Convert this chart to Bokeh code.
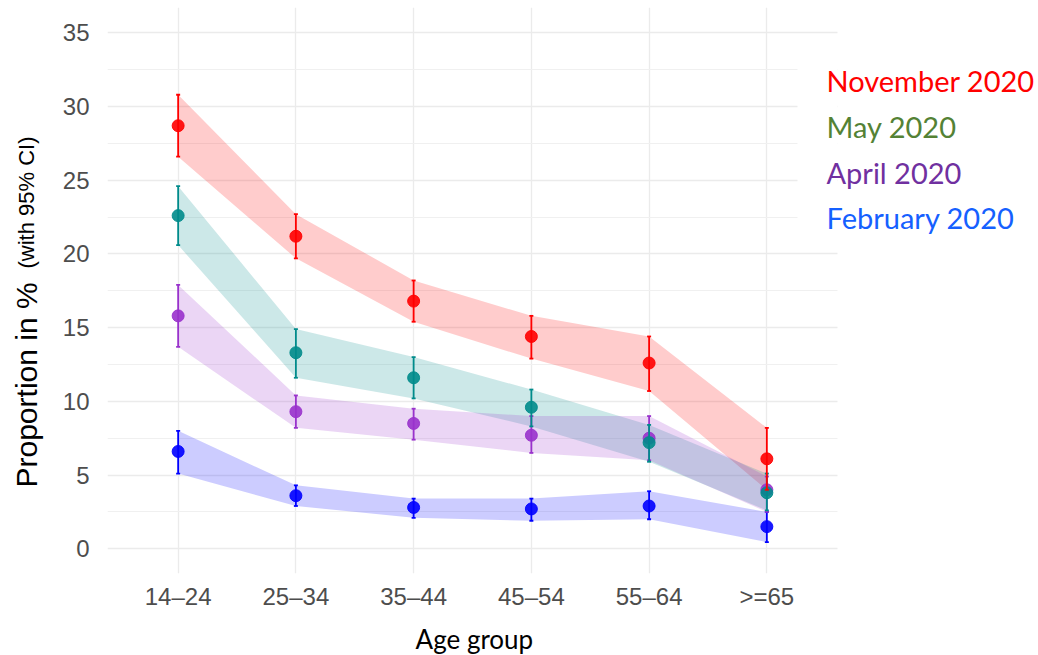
import numpy as np
from bokeh.plotting import figure
from bokeh.layouts import row, column
from bokeh.models import Range1d, FixedTicker, BoxAnnotation, ColumnDataSource
from bokeh.core.properties import value
from bokeh.embed import file_html
from bokeh.resources import INLINE

# ---------------- data ----------------
age_groups = ["14–24", "25–34", "35–44", "45–54", "55–64", ">=65"]

series_names = ["November 2020", "May 2020", "April 2020", "February 2020"]
nov_est = [28.7, 21.2, 16.8, 14.4, 12.6, 6.1]
nov_lo = [26.6, 19.7, 15.4, 12.9, 10.7, 4.0]
nov_hi = [30.8, 22.7, 18.2, 15.8, 14.4, 8.2]
may_est = [22.6, 13.3, 11.6, 9.6, 7.2, 3.8]
may_lo = [20.6, 11.6, 10.2, 8.3, 5.9, 2.6]
may_hi = [24.6, 14.9, 13.0, 10.8, 8.4, 5.1]
apr_est = [15.8, 9.3, 8.5, 7.7, 7.5, 4.0]
apr_lo = [13.7, 8.2, 7.4, 6.5, 6.0, 2.5]
apr_hi = [17.9, 10.4, 9.5, 9.0, 9.0, 4.9]
feb_est = [6.6, 3.6, 2.8, 2.7, 2.9, 1.5]
feb_lo = [5.1, 2.9, 2.1, 1.9, 2.0, 0.45]
feb_hi = [8.0, 4.3, 3.4, 3.4, 3.9, 2.5]

y_ticks = [0, 5, 10, 15, 20, 25, 30, 35]

mark_colors = ["#FF0000", "#008B8B", "#9932CC", "#0000FF"]
legend_colors = ["#FF0000", "#548235", "#7030A0", "#1560FF"]

est = [nov_est, may_est, apr_est, feb_est]
lo = [nov_lo, may_lo, apr_lo, feb_lo]
hi = [nov_hi, may_hi, apr_hi, feb_hi]

# ---------------- layout geometry (page pixels) ----------------
H = 655
H_MAIN = 615
LW = 50               # width of the strip holding the y title
MW = 986              # main figure width
FL, FR_PANEL = 107, 837   # panel left / right edge (page px)
FT, FB = 7, 573           # panel top / bottom (page px)
PX_PER_CAT = 117.74
X0 = -0.6                 # data x at the panel's left edge
Y_AT_TOP = 36.72
Y_AT_BOTTOM = -1.68
PX_PER_Y = (FB - FT) / (Y_AT_TOP - Y_AT_BOTTOM)

# texts are drawn centred on their em box; shift from baseline to that centre
LATO_MID = 0.387
LIB_MID = 0.3465

def xd(px):
    return X0 + (px - FL) / PX_PER_CAT

def yd(py):
    return Y_AT_BOTTOM + (FB - py) / PX_PER_Y

xs = list(range(len(age_groups)))

p = figure(
    width=MW, height=H_MAIN,
    x_range=Range1d(X0, xd(LW + MW)),
    y_range=Range1d(Y_AT_BOTTOM, Y_AT_TOP),
    output_backend="svg", toolbar_location=None,
    min_border_left=FL - LW, min_border_right=0, min_border_top=FT, min_border_bottom=H_MAIN - FB,
)
p.outline_line_color = None
p.background_fill_color = "white"

# axes / grid
p.xaxis.ticker = FixedTicker(ticks=xs)
p.xaxis.major_label_overrides = {i: lab for i, lab in zip(xs, age_groups)}
p.yaxis.ticker = FixedTicker(ticks=y_ticks, minor_ticks=[t + 2.5 for t in y_ticks])
p.ygrid.grid_line_color = "#EBEBEB"
p.ygrid.grid_line_width = 1.3
p.ygrid.minor_grid_line_color = "#F0F0F0"
p.ygrid.minor_grid_line_width = 1.1
p.xgrid.grid_line_color = "#EBEBEB"
p.xgrid.grid_line_width = 1.3

for ax in (p.xaxis[0], p.yaxis[0]):
    ax.axis_line_color = None
    ax.major_tick_line_color = None
    ax.minor_tick_line_color = None
    ax.major_label_text_font = "Liberation Sans"
    ax.major_label_text_font_size = "24px"
    ax.major_label_text_color = "#4D4D4D"
p.yaxis.major_label_standoff = 12
p.xaxis.major_label_standoff = 3

# white area right of the panel, and white patch behind the legend
p.add_layout(BoxAnnotation(left=xd(FR_PANEL), fill_color="white", fill_alpha=1.0,
                           line_alpha=0, level="underlay"))
p.add_layout(BoxAnnotation(left=xd(797), right=xd(FR_PANEL), bottom=yd(245), top=yd(45),
                           fill_color="white", fill_alpha=1.0, line_alpha=0, level="underlay"))

# ribbons
for i in range(len(series_names)):
    src = ColumnDataSource(dict(x=xs, lo=lo[i], hi=hi[i], est=est[i]))
    p.varea(x="x", y1="lo", y2="hi", source=src, fill_color=mark_colors[i], fill_alpha=0.2)

# error bars + points
for i in reversed(range(len(series_names))):
    src = ColumnDataSource(dict(x=xs, lo=lo[i], hi=hi[i], est=est[i]))
    p.segment(x0="x", y0="lo", x1="x", y1="hi", source=src, line_color=mark_colors[i], line_width=1.8)
    p.scatter(x="x", y="lo", source=src, marker="dash", size=4, line_color=mark_colors[i], line_width=1.8)
    p.scatter(x="x", y="hi", source=src, marker="dash", size=4, line_color=mark_colors[i], line_width=1.8)
    p.scatter(x="x", y="est", source=src, size=12, fill_color=mark_colors[i], line_color=mark_colors[i],
              fill_alpha=0.9, line_alpha=0.9)

# legend text (inside the extended frame, right of the panel)
LEG_FS = 29
leg_base = [91.7, 137.0, 183.5, 228.3]
leg_src = ColumnDataSource(dict(x=[xd(826)] * len(series_names),
                                y=[yd(b - LATO_MID * LEG_FS) for b in leg_base],
                                text=series_names, color=legend_colors))
p.text(x="x", y="y", text="text", text_color="color", source=leg_src,
       text_align="left", text_baseline="middle",
       text_font=value("Lato"), text_font_size=f"{LEG_FS}px")

# ---------------- y title strip ----------------
t = figure(width=LW, height=H, x_range=Range1d(0, LW), y_range=Range1d(-H, 0),
           x_axis_type=None, y_axis_type=None, output_backend="svg", toolbar_location=None,
           min_border=0)
t.outline_line_color = None
t.grid.visible = False
t.text(x=[36 - LIB_MID * 30], y=[-487], text=["Proportion in %"], angle=np.pi / 2,
       text_align="left", text_baseline="middle",
       text_font=value("Liberation Sans"), text_font_size="30px", text_color="black")
t.text(x=[34 - LIB_MID * 22], y=[-268], text=["(with 95% CI)"], angle=np.pi / 2,
       text_align="left", text_baseline="middle",
       text_font=value("Liberation Sans"), text_font_size="22px", text_color="black")

# ---------------- x title strip ----------------
b = figure(width=MW, height=H - H_MAIN, x_range=Range1d(LW, LW + MW), y_range=Range1d(-H, -H_MAIN),
           x_axis_type=None, y_axis_type=None, output_backend="svg", toolbar_location=None,
           min_border=0)
b.outline_line_color = None
b.grid.visible = False
b.text(x=[377], y=[-(649 - LATO_MID * 26)], text=["Age group"],
       text_align="left", text_baseline="middle",
       text_font=value("Lato"), text_font_size="26px", text_color="black")

layout = row(t, column(p, b, spacing=0), spacing=0)
open("out.html", "w").write(file_html(layout, INLINE))
